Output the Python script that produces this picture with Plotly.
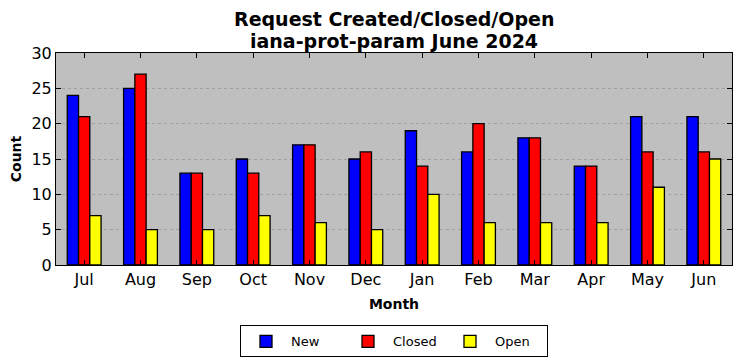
import plotly.graph_objects as go

months = ["Jul", "Aug", "Sep", "Oct", "Nov", "Dec", "Jan", "Feb", "Mar", "Apr", "May", "Jun"]
new_vals = [24, 25, 13, 15, 17, 15, 19, 16, 18, 14, 21, 21]
closed_vals = [21, 27, 13, 13, 17, 16, 14, 20, 18, 14, 16, 16]
open_vals = [7, 5, 5, 7, 6, 5, 10, 6, 6, 6, 11, 15]

title_lines = ["Request Created/Closed/Open", "iana-prot-param June 2024"]

font_family = "DejaVu Sans"

fig = go.Figure()
for name, vals, color in [("New", new_vals, "#0000ff"),
                          ("Closed", closed_vals, "#ff0000"),
                          ("Open", open_vals, "#ffff00")]:
    fig.add_trace(go.Bar(x=months, y=vals, name=name,
                         marker=dict(color=color, line=dict(color="black", width=1.3))))

for i, line in enumerate(title_lines):
    fig.add_annotation(text="<b>" + line + "</b>", xref="paper", yref="paper",
                       x=0.5, y=(53 - 19 - 22 * i) / 212 + 1.0, yanchor="middle", xanchor="center",
                       showarrow=False, font=dict(size=19, family=font_family, color="black"))

fig.update_layout(
    width=742, height=361,
    margin=dict(l=56, r=10, t=53, b=96, autoexpand=False),
    paper_bgcolor="white",
    plot_bgcolor="#bfbfbf",
    barmode="group",
    bargap=0.4,
    bargroupgap=0,
    font=dict(family=font_family, color="black"),
    showlegend=True,
    legend=dict(orientation="h", x=0.5, xanchor="center", y=-0.285, yanchor="top",
                bordercolor="black", borderwidth=1, bgcolor="white",
                font=dict(size=13), traceorder="normal",
                itemwidth=40, entrywidth=47, entrywidthmode="pixels"),
    xaxis=dict(
        range=[-0.5, 11.5], automargin=False,
        showline=True, linecolor="black", linewidth=1, mirror="ticks",
        ticks="inside", ticklen=5, tickcolor="black",
        tickfont=dict(size=16),
        title=dict(text="<b>Month</b>", font=dict(size=14), standoff=10),
        showgrid=False,
    ),
    yaxis=dict(
        range=[0, 30], dtick=5, automargin=False,
        showline=True, linecolor="black", linewidth=1, mirror="ticks",
        ticks="inside", ticklen=5, tickcolor="black",
        tickfont=dict(size=16),
        title=dict(text="<b>Count</b>", font=dict(size=14), standoff=6),
        showgrid=True, gridcolor="#a0a0a0", griddash="dot", gridwidth=1,
        zeroline=False,
    ),
)

fig.write_html("out.html", config={"displayModeBar": False},
               post_script="document.body.style.margin='0';")
